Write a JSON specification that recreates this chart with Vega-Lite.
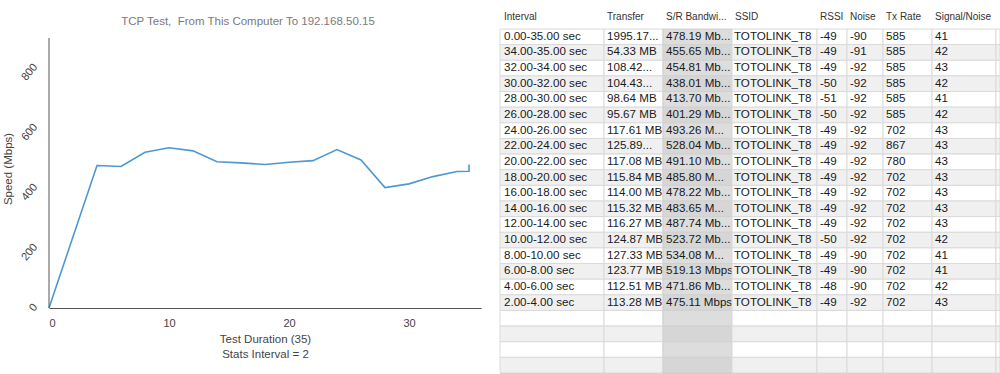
{
  "$schema": "https://vega.github.io/schema/vega-lite/v6.json",
  "padding": {"left": 2, "top": 11, "right": 0, "bottom": 0},
  "background": "#ffffff",
  "spacing": 18,
  "config": {
    "font": "Liberation Sans",
    "concat": {"spacing": 0}
  },
  "datasets": {
    "speed": [
      {"i": 0, "t": 0, "mbps": 0},
      {"i": 1, "t": 4, "mbps": 475.11},
      {"i": 2, "t": 6, "mbps": 471.86},
      {"i": 3, "t": 8, "mbps": 519.13},
      {"i": 4, "t": 10, "mbps": 534.08},
      {"i": 5, "t": 12, "mbps": 523.72},
      {"i": 6, "t": 14, "mbps": 487.74},
      {"i": 7, "t": 16, "mbps": 483.65},
      {"i": 8, "t": 18, "mbps": 478.22},
      {"i": 9, "t": 20, "mbps": 485.80},
      {"i": 10, "t": 22, "mbps": 491.10},
      {"i": 11, "t": 24, "mbps": 528.04},
      {"i": 12, "t": 26, "mbps": 493.26},
      {"i": 13, "t": 28, "mbps": 401.29},
      {"i": 14, "t": 30, "mbps": 413.70},
      {"i": 15, "t": 32, "mbps": 438.01},
      {"i": 16, "t": 34, "mbps": 454.81},
      {"i": 17, "t": 35, "mbps": 455.65},
      {"i": 18, "t": 35, "mbps": 478.19}
    ],
    "table": [
      {"row": 1, "interval": "0.00-35.00 sec", "transfer": "1995.17...", "bw": "478.19 Mb...", "ssid": "TOTOLINK_T8", "rssi": "-49", "noise": "-90", "tx": "585", "sn": "41"},
      {"row": 2, "interval": "34.00-35.00 sec", "transfer": "54.33 MB", "bw": "455.65 Mb...", "ssid": "TOTOLINK_T8", "rssi": "-49", "noise": "-91", "tx": "585", "sn": "42"},
      {"row": 3, "interval": "32.00-34.00 sec", "transfer": "108.42...", "bw": "454.81 Mb...", "ssid": "TOTOLINK_T8", "rssi": "-49", "noise": "-92", "tx": "585", "sn": "43"},
      {"row": 4, "interval": "30.00-32.00 sec", "transfer": "104.43...", "bw": "438.01 Mb...", "ssid": "TOTOLINK_T8", "rssi": "-50", "noise": "-92", "tx": "585", "sn": "42"},
      {"row": 5, "interval": "28.00-30.00 sec", "transfer": "98.64 MB", "bw": "413.70 Mb...", "ssid": "TOTOLINK_T8", "rssi": "-51", "noise": "-92", "tx": "585", "sn": "41"},
      {"row": 6, "interval": "26.00-28.00 sec", "transfer": "95.67 MB", "bw": "401.29 Mb...", "ssid": "TOTOLINK_T8", "rssi": "-50", "noise": "-92", "tx": "585", "sn": "42"},
      {"row": 7, "interval": "24.00-26.00 sec", "transfer": "117.61 MB", "bw": "493.26 M...", "ssid": "TOTOLINK_T8", "rssi": "-49", "noise": "-92", "tx": "702", "sn": "43"},
      {"row": 8, "interval": "22.00-24.00 sec", "transfer": "125.89...", "bw": "528.04 Mb...", "ssid": "TOTOLINK_T8", "rssi": "-49", "noise": "-92", "tx": "867", "sn": "43"},
      {"row": 9, "interval": "20.00-22.00 sec", "transfer": "117.08 MB", "bw": "491.10 Mb...", "ssid": "TOTOLINK_T8", "rssi": "-49", "noise": "-92", "tx": "780", "sn": "43"},
      {"row": 10, "interval": "18.00-20.00 sec", "transfer": "115.84 MB", "bw": "485.80 M...", "ssid": "TOTOLINK_T8", "rssi": "-49", "noise": "-92", "tx": "702", "sn": "43"},
      {"row": 11, "interval": "16.00-18.00 sec", "transfer": "114.00 MB", "bw": "478.22 Mb...", "ssid": "TOTOLINK_T8", "rssi": "-49", "noise": "-92", "tx": "702", "sn": "43"},
      {"row": 12, "interval": "14.00-16.00 sec", "transfer": "115.32 MB", "bw": "483.65 M...", "ssid": "TOTOLINK_T8", "rssi": "-49", "noise": "-92", "tx": "702", "sn": "43"},
      {"row": 13, "interval": "12.00-14.00 sec", "transfer": "116.27 MB", "bw": "487.74 Mb...", "ssid": "TOTOLINK_T8", "rssi": "-49", "noise": "-92", "tx": "702", "sn": "43"},
      {"row": 14, "interval": "10.00-12.00 sec", "transfer": "124.87 MB", "bw": "523.72 Mb...", "ssid": "TOTOLINK_T8", "rssi": "-50", "noise": "-92", "tx": "702", "sn": "42"},
      {"row": 15, "interval": "8.00-10.00 sec", "transfer": "127.33 MB", "bw": "534.08 M...", "ssid": "TOTOLINK_T8", "rssi": "-49", "noise": "-90", "tx": "702", "sn": "41"},
      {"row": 16, "interval": "6.00-8.00 sec", "transfer": "123.77 MB", "bw": "519.13 Mbps", "ssid": "TOTOLINK_T8", "rssi": "-49", "noise": "-90", "tx": "702", "sn": "41"},
      {"row": 17, "interval": "4.00-6.00 sec", "transfer": "112.51 MB", "bw": "471.86 Mb...", "ssid": "TOTOLINK_T8", "rssi": "-48", "noise": "-90", "tx": "702", "sn": "42"},
      {"row": 18, "interval": "2.00-4.00 sec", "transfer": "113.28 MB", "bw": "475.11 Mbps", "ssid": "TOTOLINK_T8", "rssi": "-49", "noise": "-92", "tx": "702", "sn": "43"},
      {"row": 19, "interval": "", "transfer": "", "bw": "", "ssid": "", "rssi": "", "noise": "", "tx": "", "sn": ""},
      {"row": 20, "interval": "", "transfer": "", "bw": "", "ssid": "", "rssi": "", "noise": "", "tx": "", "sn": ""},
      {"row": 21, "interval": "", "transfer": "", "bw": "", "ssid": "", "rssi": "", "noise": "", "tx": "", "sn": ""},
      {"row": 22, "interval": "", "transfer": "", "bw": "", "ssid": "", "rssi": "", "noise": "", "tx": "", "sn": ""}
    ]
  },
  "hconcat": [
    {
      "width": 432,
      "height": 279,
      "view": {"stroke": null},
      "title": {"text": "TCP Test,\u00a0 From This Computer To 192.168.50.15", "fontSize": 11.5, "fontWeight": "normal", "color": "#7a7a7a", "anchor": "middle", "dx": -17, "offset": 2},
      "layer": [
        {
          "data": {"name": "speed"},
          "mark": {"type": "line", "color": "#4c98d3", "strokeWidth": 1.6},
          "encoding": {
            "x": {"field": "t", "type": "quantitative", "scale": {"domain": [0, 36], "nice": false},
              "axis": {"values": [0, 10, 20, 30], "title": ["Test Duration (35)", "Stats Interval = 2"], "ticks": false, "grid": false,
                "domainColor": "#555555", "labelColor": "#444444", "labelFontSize": 11, "labelPadding": 9,
                "titleFontSize": 11.5, "titleFontWeight": "normal", "titleColor": "#444444", "titlePadding": 5, "titleLineHeight": 15}},
            "y": {"field": "mbps", "type": "quantitative", "scale": {"domain": [0, 930], "nice": false},
              "axis": {"values": [0, 200, 400, 600, 800], "title": "Speed (Mbps)", "ticks": false, "grid": false, "domain": false,
                "labelColor": "#444444", "labelFontSize": 11, "labelAngle": -50, "labelPadding": 10,
                "titleFontSize": 11.5, "titleFontWeight": "normal", "titleColor": "#444444", "titlePadding": 5}},
            "order": {"field": "i", "type": "quantitative"}
          }
        },
        {
          "data": {"values": [{}]},
          "mark": {"type": "rule", "color": "#555555", "strokeWidth": 1},
          "encoding": {
            "x": {"datum": 0, "type": "quantitative"},
            "y": {"datum": 0, "type": "quantitative"},
            "y2": {"datum": 900}
          }
        }
      ]
    },
    {
      "spacing": 0,
      "bounds": "flush",
      "hconcat": [
        {"width": 104, "height": 344, "data": {"name": "table"}, "view": {"stroke": "#c8c8c8"},
          "title": {"text": "Interval", "anchor": "start", "frame": "group", "dx": 4, "fontSize": 10, "fontWeight": "normal", "color": "#333333", "offset": 7},
          "encoding": {"y": {"field": "row", "type": "ordinal", "scale": {"paddingInner": 0, "paddingOuter": 0}, "axis": null}},
          "layer": [
            {"mark": {"type": "rect", "stroke": "#dadada", "strokeWidth": 1}, "encoding": {"fill": {"condition": {"test": "datum.row % 2 == 0", "value": "#f0f0f0"}, "value": "#ffffff"}}},
            {"mark": {"type": "text", "align": "left", "dx": 4, "fontSize": 11.6, "color": "#1a1a1a"}, "encoding": {"x": {"datum": 0, "type": "quantitative", "scale": {"domain": [0, 1]}, "axis": null}, "text": {"field": "interval"}}}
          ]},
        {"width": 59, "height": 344, "data": {"name": "table"}, "view": {"stroke": "#c8c8c8"},
          "title": {"text": "Transfer", "anchor": "start", "frame": "group", "dx": 3, "fontSize": 10, "fontWeight": "normal", "color": "#333333", "offset": 7},
          "encoding": {"y": {"field": "row", "type": "ordinal", "scale": {"paddingInner": 0, "paddingOuter": 0}, "axis": null}},
          "layer": [
            {"mark": {"type": "rect", "stroke": "#dadada", "strokeWidth": 1}, "encoding": {"fill": {"condition": {"test": "datum.row % 2 == 0", "value": "#f0f0f0"}, "value": "#ffffff"}}},
            {"mark": {"type": "text", "align": "left", "dx": 3, "fontSize": 11.6, "color": "#1a1a1a"}, "encoding": {"x": {"datum": 0, "type": "quantitative", "scale": {"domain": [0, 1]}, "axis": null}, "text": {"field": "transfer"}}}
          ]},
        {"width": 69, "height": 344, "data": {"name": "table"}, "view": {"stroke": "#c8c8c8"},
          "title": {"text": "S/R Bandwi...", "anchor": "start", "frame": "group", "dx": 3, "fontSize": 10, "fontWeight": "normal", "color": "#333333", "offset": 7},
          "encoding": {"y": {"field": "row", "type": "ordinal", "scale": {"paddingInner": 0, "paddingOuter": 0}, "axis": null}},
          "layer": [
            {"mark": {"type": "rect", "stroke": "#d0d0d0", "strokeWidth": 1}, "encoding": {"fill": {"condition": {"test": "datum.row % 2 == 0", "value": "#d6d6d6"}, "value": "#dddddd"}}},
            {"mark": {"type": "text", "align": "left", "dx": 3, "fontSize": 11.6, "color": "#1a1a1a"}, "encoding": {"x": {"datum": 0, "type": "quantitative", "scale": {"domain": [0, 1]}, "axis": null}, "text": {"field": "bw"}}}
          ]},
        {"width": 85, "height": 344, "data": {"name": "table"}, "view": {"stroke": "#c8c8c8"},
          "title": {"text": "SSID", "anchor": "start", "frame": "group", "dx": 3, "fontSize": 10, "fontWeight": "normal", "color": "#333333", "offset": 7},
          "encoding": {"y": {"field": "row", "type": "ordinal", "scale": {"paddingInner": 0, "paddingOuter": 0}, "axis": null}},
          "layer": [
            {"mark": {"type": "rect", "stroke": "#dadada", "strokeWidth": 1}, "encoding": {"fill": {"condition": {"test": "datum.row % 2 == 0", "value": "#f0f0f0"}, "value": "#ffffff"}}},
            {"mark": {"type": "text", "align": "left", "dx": 2, "fontSize": 11.6, "color": "#1a1a1a"}, "encoding": {"x": {"datum": 0, "type": "quantitative", "scale": {"domain": [0, 1]}, "axis": null}, "text": {"field": "ssid"}}}
          ]},
        {"width": 30, "height": 344, "data": {"name": "table"}, "view": {"stroke": "#c8c8c8"},
          "title": {"text": "RSSI", "anchor": "start", "frame": "group", "dx": 3, "fontSize": 10, "fontWeight": "normal", "color": "#333333", "offset": 7},
          "encoding": {"y": {"field": "row", "type": "ordinal", "scale": {"paddingInner": 0, "paddingOuter": 0}, "axis": null}},
          "layer": [
            {"mark": {"type": "rect", "stroke": "#dadada", "strokeWidth": 1}, "encoding": {"fill": {"condition": {"test": "datum.row % 2 == 0", "value": "#f0f0f0"}, "value": "#ffffff"}}},
            {"mark": {"type": "text", "align": "left", "dx": 3, "fontSize": 11.6, "color": "#1a1a1a"}, "encoding": {"x": {"datum": 0, "type": "quantitative", "scale": {"domain": [0, 1]}, "axis": null}, "text": {"field": "rssi"}}}
          ]},
        {"width": 36, "height": 344, "data": {"name": "table"}, "view": {"stroke": "#c8c8c8"},
          "title": {"text": "Noise", "anchor": "start", "frame": "group", "dx": 3, "fontSize": 10, "fontWeight": "normal", "color": "#333333", "offset": 7},
          "encoding": {"y": {"field": "row", "type": "ordinal", "scale": {"paddingInner": 0, "paddingOuter": 0}, "axis": null}},
          "layer": [
            {"mark": {"type": "rect", "stroke": "#dadada", "strokeWidth": 1}, "encoding": {"fill": {"condition": {"test": "datum.row % 2 == 0", "value": "#f0f0f0"}, "value": "#ffffff"}}},
            {"mark": {"type": "text", "align": "left", "dx": 3, "fontSize": 11.6, "color": "#1a1a1a"}, "encoding": {"x": {"datum": 0, "type": "quantitative", "scale": {"domain": [0, 1]}, "axis": null}, "text": {"field": "noise"}}}
          ]},
        {"width": 49, "height": 344, "data": {"name": "table"}, "view": {"stroke": "#c8c8c8"},
          "title": {"text": "Tx Rate", "anchor": "start", "frame": "group", "dx": 3, "fontSize": 10, "fontWeight": "normal", "color": "#333333", "offset": 7},
          "encoding": {"y": {"field": "row", "type": "ordinal", "scale": {"paddingInner": 0, "paddingOuter": 0}, "axis": null}},
          "layer": [
            {"mark": {"type": "rect", "stroke": "#dadada", "strokeWidth": 1}, "encoding": {"fill": {"condition": {"test": "datum.row % 2 == 0", "value": "#f0f0f0"}, "value": "#ffffff"}}},
            {"mark": {"type": "text", "align": "left", "dx": 3, "fontSize": 11.6, "color": "#1a1a1a"}, "encoding": {"x": {"datum": 0, "type": "quantitative", "scale": {"domain": [0, 1]}, "axis": null}, "text": {"field": "tx"}}}
          ]},
        {"width": 64, "height": 344, "data": {"name": "table"}, "view": {"stroke": "#c8c8c8"},
          "title": {"text": "Signal/Noise", "anchor": "start", "frame": "group", "dx": 3, "fontSize": 10, "fontWeight": "normal", "color": "#333333", "offset": 7},
          "encoding": {"y": {"field": "row", "type": "ordinal", "scale": {"paddingInner": 0, "paddingOuter": 0}, "axis": null}},
          "layer": [
            {"mark": {"type": "rect", "stroke": "#dadada", "strokeWidth": 1}, "encoding": {"fill": {"condition": {"test": "datum.row % 2 == 0", "value": "#f0f0f0"}, "value": "#ffffff"}}},
            {"mark": {"type": "text", "align": "left", "dx": 3, "fontSize": 11.6, "color": "#1a1a1a"}, "encoding": {"x": {"datum": 0, "type": "quantitative", "scale": {"domain": [0, 1]}, "axis": null}, "text": {"field": "sn"}}}
          ]},
        {"width": 4, "height": 344, "data": {"name": "table"}, "view": {"stroke": "#c8c8c8"},
          "encoding": {"y": {"field": "row", "type": "ordinal", "scale": {"paddingInner": 0, "paddingOuter": 0}, "axis": null}},
          "layer": [
            {"mark": {"type": "rect", "stroke": "#dadada", "strokeWidth": 1}, "encoding": {"fill": {"condition": {"test": "datum.row % 2 == 0", "value": "#f0f0f0"}, "value": "#ffffff"}}}
          ]}
      ]
    }
  ]
}
